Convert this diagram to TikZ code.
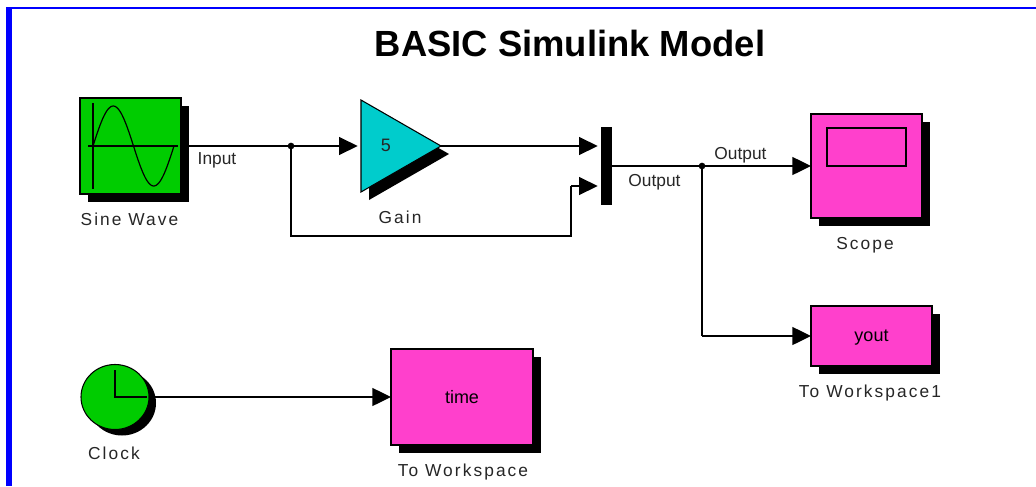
\documentclass[tikz,border=0pt]{standalone}
\usepackage{fontspec}
\setmainfont{Liberation Sans}
\newfontfamily\spacedfont[LetterSpace=12]{Liberation Sans}
\usetikzlibrary{arrows.meta,shadows,shapes.geometric}
\definecolor{blockgreen}{HTML}{00CC00}
\definecolor{blockpink}{HTML}{FF40CC}
\definecolor{blockcyan}{HTML}{00CCCC}
\definecolor{frameblue}{HTML}{0000FF}
\tikzset{
  x=.75pt,y=-.75pt,
  block/.style={draw=black,line width=.8pt,inner sep=0pt,outer sep=0pt,
    general shadow={shadow xshift=6pt,shadow yshift=-6pt,fill=black}},
  wire/.style={draw=black,line width=1pt},
  arrowwire/.style={wire,-{Triangle[length=14pt,width=13.5pt]}},
  junction/.style={circle,fill=black,inner sep=0pt,minimum size=5pt,outer sep=0pt},
  blocklabel/.style={font=\spacedfont\fontsize{13pt}{15pt}\selectfont,text=black!85,inner sep=0pt,text depth=0pt},
  wirelabel/.style={font=\fontsize{13pt}{15pt}\selectfont,text=black!85,inner sep=0pt,text depth=0pt},
  inner/.style={font=\fontsize{13.5pt}{15pt}\selectfont,inner sep=0pt,text depth=0pt},
  glyph/.style={draw=black,line width=1pt}
}
\begin{document}
\begin{tikzpicture}
\useasboundingbox (0,0) rectangle (1036,486);
\fill[white] (0,0) rectangle (1036,486);
% frame
\fill[frameblue] (6,7) rectangle (1036,9);
\fill[frameblue] (6,7) rectangle (12,486);
% title
\node[font=\bfseries\fontsize{27.3pt}{30pt}\selectfont,inner sep=0pt] (title) at (570,43) {BASIC Simulink Model};
% sine block
\node[block,fill=blockgreen,minimum width=75.75pt,minimum height=72pt] (sine) at (130.5,146) {};
\draw[glyph] (93,103) -- (93,189);
\draw[glyph] (88,146) -- (178,146);
\draw[glyph,line width=.9pt,smooth,domain=0:360,samples=60] plot ({93+\x/360*81},{146-40*sin(\x)});
\node[blocklabel] (sinelabel) at (129.5,219) {Sine Wave};
% gain
\fill[black] (369,108) -- (449,154) -- (369,200) -- cycle;
\filldraw[fill=blockcyan,draw=black,line width=.8pt] (361,100) -- (441,146) -- (361,192) -- cycle;
\coordinate (gainin) at (361,146);
\coordinate (gainout) at (441,146);
\node[inner,text=black!85] (gainval) at (386,145) {5};
\node[blocklabel] (gainlabel) at (400,217) {Gain};
% mux
\node[fill=black,minimum width=8.25pt,minimum height=58.5pt,inner sep=0pt,outer sep=0pt] (mux) at (606.5,166) {};
\coordinate (muxa) at (601,146);
\coordinate (muxb) at (601,186);
% scope
\node[block,fill=blockpink,minimum width=83.25pt,minimum height=78pt] (scope) at (866.5,166) {};
\node[draw=black,line width=1pt,minimum width=59.25pt,minimum height=28.5pt,inner sep=0pt] (screen) at (866.5,147) {};
\node[blocklabel] (scopelabel) at (865,243) {Scope};
% yout
\node[block,fill=blockpink,minimum width=90.75pt,minimum height=45pt,inner,text=black] (yout) at (871.5,336) {yout};
\node[blocklabel] (youtlabel) at (870,391) {To Workspace1};
% clock
\fill[black] (122,403) ellipse (34 and 32.5);
\node[ellipse,draw=black,line width=.8pt,fill=blockgreen,minimum width=51pt,minimum height=48.75pt,inner sep=0pt,outer sep=0pt] (clock) at (115,397) {};
\draw[glyph] (115,370) -- (115,397) -- (147,397);
\node[blocklabel] (clocklabel) at (114,453) {Clock};
% time
\node[block,fill=blockpink,minimum width=106.5pt,minimum height=72pt,inner,text=black] (time) at (462,397) {time};
\node[blocklabel] (timelabel) at (463,470) {To Workspace};
% junctions
\node[junction] (ja) at (291,146) {};
\node[junction] (jb) at (702,166) {};
\coordinate (fb1) at (291,236);
\coordinate (fb2) at (571,236);
\coordinate (fb3) at (571,186);
\coordinate (y1) at (702,336);
% wires
\draw[wire] (sine.east) -- (ja);
\draw[arrowwire,shorten >=2.5pt] (ja) -- (gainin);
\draw[arrowwire,shorten >=2.5pt] (gainout) -- (muxa);
\draw[wire] (ja) -- (fb1) -- (fb2) -- (fb3);
\draw[arrowwire,shorten >=2.5pt] (fb3) -- (muxb);
\draw[wire] (mux.east) -- (jb);
\draw[arrowwire] (jb) -- (scope.west);
\draw[wire] (jb) -- (y1);
\draw[arrowwire] (y1) -- (yout.west);
\draw[arrowwire] (clock.east) -- (time.west);
% wire labels
\node[wirelabel] (inputlabel) at (217,159) {Input};
\node[wirelabel] (outa) at (654.5,180) {Output};
\node[wirelabel] (outb) at (740.5,153) {Output};
\end{tikzpicture}
\end{document}
